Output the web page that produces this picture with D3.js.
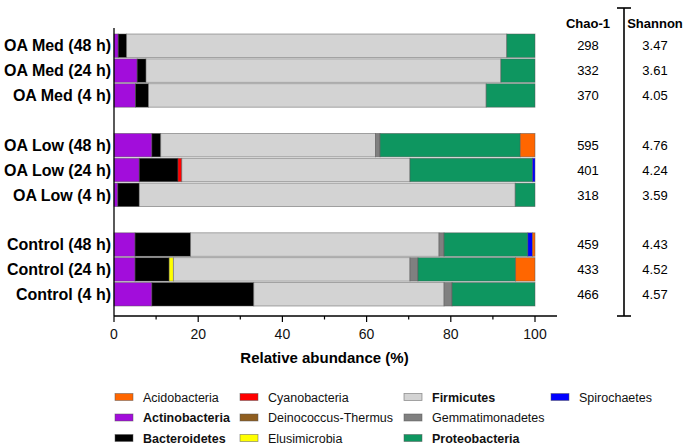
<!DOCTYPE html>
<html>
<head>
<meta charset="utf-8">
<script src="https://cdn.jsdelivr.net/npm/d3@7"></script>
<style>
  body { margin: 0; background: #fff; }
  svg { font-family: "Liberation Sans", Arial, sans-serif; }
</style>
</head>
<body>
<div id="chart"></div>
<script>
// --- data ---
const samples = [
  'OA Med (48 h)', 'OA Med (24 h)', 'OA Med (4 h)', '',
  'OA Low (48 h)', 'OA Low (24 h)', 'OA Low (4 h)', ' ',
  'Control (48 h)', 'Control (24 h)', 'Control (4 h)'
];
const phyla = ['Actinobacteria', 'Bacteroidetes', 'Cyanobacteria', 'Deinococcus-Thermus',
  'Elusimicrobia', 'Firmicutes', 'Gemmatimonadetes', 'Proteobacteria', 'Spirochaetes', 'Acidobacteria'];
const phylumColors = ['#a20ddb', '#000000', '#ff0000', '#8f5e20',
  '#ffff00', '#d3d3d3', '#808080', '#0e9660', '#0000ff', '#ff6600'];
// relative abundance (%) per sample, in phyla order
const abundance = {
  'OA Med (48 h)':  [1.0, 2.0, 0, 0, 0, 90.3, 0, 6.7, 0, 0],
  'OA Med (24 h)':  [5.5, 2.1, 0, 0, 0, 84.3, 0, 8.1, 0, 0],
  'OA Med (4 h)':   [5.1, 3.1, 0, 0, 0, 80.2, 0, 11.6, 0, 0],
  'OA Low (48 h)':  [9.0, 2.1, 0, 0, 0, 51.0, 1.1, 33.3, 0, 3.5],
  'OA Low (24 h)':  [6.0, 9.2, 0.9, 0, 0, 54.2, 0, 29.1, 0.6, 0],
  'OA Low (4 h)':   [0.9, 5.1, 0, 0, 0, 89.3, 0, 4.7, 0, 0],
  'Control (48 h)': [5.0, 13.2, 0, 0, 0, 59.0, 1.2, 19.9, 1.1, 0.6],
  'Control (24 h)': [5.0, 8.1, 0, 0, 1.0, 56.2, 1.9, 23.2, 0, 4.6],
  'Control (4 h)':  [9.0, 24.2, 0, 0, 0, 45.2, 1.9, 19.7, 0, 0]
};
const chao1 = [298, 332, 370, null, 595, 401, 318, null, 459, 433, 466];
const shannon = ['3.47', '3.61', '4.05', null, '4.76', '4.24', '3.59', null, '4.43', '4.52', '4.57'];
const xTicks = [0, 20, 40, 60, 80, 100];
const xMinorTicks = [10, 30, 50, 70, 90];
// legend order (columns, top to bottom)
const legendOrder = ['Acidobacteria', 'Actinobacteria', 'Bacteroidetes', 'Cyanobacteria',
  'Deinococcus-Thermus', 'Elusimicrobia', 'Firmicutes', 'Gemmatimonadetes', 'Proteobacteria', 'Spirochaetes'];
const boldPhyla = ['Actinobacteria', 'Bacteroidetes', 'Firmicutes', 'Proteobacteria'];

// --- layout ---
const W = 685, H = 446;
const svg = d3.select('#chart').append('svg').attr('width', W).attr('height', H);

const x = d3.scaleLinear().domain([0, 100]).range([114, 535]);
const y = d3.scaleBand().domain(samples).range([33.5, 306.5]).paddingInner(0.055).paddingOuter(0.02);

const color = d3.scaleOrdinal().domain(phyla).range(phylumColors);

// stacked segments
const rows = samples.filter(s => abundance[s]).map(s => {
  const obj = { sample: s };
  phyla.forEach((p, i) => { obj[p] = abundance[s][i]; });
  return obj;
});
const stack = d3.stack().keys(phyla)(rows);

const bars = svg.append('g');
stack.forEach(layer => {
  bars.selectAll(null)
    .data(layer.filter(d => d[1] - d[0] > 0))
    .enter().append('rect')
    .attr('x', d => x(d[0]))
    .attr('width', d => x(d[1]) - x(d[0]))
    .attr('y', d => y(d.data.sample))
    .attr('height', y.bandwidth())
    .attr('fill', color(layer.key))
    .attr('stroke', '#555')
    .attr('stroke-opacity', 0.6)
    .attr('stroke-width', 0.8);
});

// x axis
const axisY = 316;
const xAxis = svg.append('g').attr('transform', `translate(0,${axisY})`);
xAxis.append('line').attr('x1', 114).attr('x2', 557).attr('stroke', '#000').attr('stroke-width', 1.3);
xAxis.selectAll('.major').data(xTicks).enter().append('line')
  .attr('x1', d => x(d)).attr('x2', d => x(d)).attr('y1', 0).attr('y2', 6)
  .attr('stroke', '#000').attr('stroke-width', 1.2);
xAxis.selectAll('.minor').data(xMinorTicks).enter().append('line')
  .attr('x1', d => x(d)).attr('x2', d => x(d)).attr('y1', 0).attr('y2', 3.5)
  .attr('stroke', '#000').attr('stroke-width', 1.2);
xAxis.selectAll('text').data(xTicks).enter().append('text')
  .attr('x', d => x(d)).attr('y', 23)
  .attr('text-anchor', 'middle').attr('font-size', 14).attr('fill', '#111')
  .text(d => d);

svg.append('text').attr('x', (x(0) + x(100)) / 2).attr('y', 363)
  .attr('text-anchor', 'middle').attr('font-size', 15).attr('font-weight', 'bold')
  .text('Relative abundance (%)');

// y axis
svg.append('line').attr('x1', 114).attr('x2', 114).attr('y1', 28).attr('y2', axisY)
  .attr('stroke', '#000').attr('stroke-width', 1.3);
svg.append('g').selectAll('text').data(samples.filter(s => abundance[s])).enter().append('text')
  .attr('x', 111).attr('y', d => y(d) + y.bandwidth() / 2)
  .attr('dy', '0.36em').attr('text-anchor', 'end')
  .attr('font-size', 16).attr('font-weight', 'bold')
  .text(d => d);

// diversity columns
const chaoX = 588, shanX = 655, divX = 624;
svg.append('text').attr('x', chaoX).attr('y', 28).attr('text-anchor', 'middle')
  .attr('font-size', 13).attr('font-weight', 'bold').text('Chao-1');
svg.append('text').attr('x', shanX).attr('y', 28).attr('text-anchor', 'middle')
  .attr('font-size', 13).attr('font-weight', 'bold').text('Shannon');
svg.append('g').selectAll('text').data(samples.map((s, i) => ({ s, v: chao1[i] })).filter(d => d.v !== null))
  .enter().append('text')
  .attr('x', chaoX).attr('y', d => y(d.s) + y.bandwidth() / 2).attr('dy', '0.36em')
  .attr('text-anchor', 'middle').attr('font-size', 13).text(d => d.v);
svg.append('g').selectAll('text').data(samples.map((s, i) => ({ s, v: shannon[i] })).filter(d => d.v !== null))
  .enter().append('text')
  .attr('x', shanX).attr('y', d => y(d.s) + y.bandwidth() / 2).attr('dy', '0.36em')
  .attr('text-anchor', 'middle').attr('font-size', 13).text(d => d.v);
const sep = svg.append('g').attr('stroke', '#000').attr('stroke-width', 1.6);
sep.append('line').attr('x1', divX).attr('x2', divX).attr('y1', 8).attr('y2', axisY);
sep.append('line').attr('x1', divX - 7).attr('x2', divX + 7).attr('y1', 8).attr('y2', 8);
sep.append('line').attr('x1', divX - 7).attr('x2', divX + 7).attr('y1', axisY).attr('y2', axisY);

// legend
const legCols = [115, 240, 404, 551];
const legRows = [397, 417.5, 438];
const legend = svg.append('g');
legendOrder.forEach((p, i) => {
  const col = i < 3 ? 0 : i < 6 ? 1 : i < 9 ? 2 : 3;
  const row = i < 9 ? i % 3 : 0;
  const g = legend.append('g').attr('transform', `translate(${legCols[col]},${legRows[row]})`);
  g.append('rect').attr('x', 0).attr('y', -3.5).attr('width', 18).attr('height', 7)
    .attr('fill', color(p)).attr('stroke', '#555').attr('stroke-opacity', 0.6).attr('stroke-width', 0.8);
  g.append('text').attr('x', 28).attr('y', 0).attr('dy', '0.36em')
    .attr('font-size', 12.5).attr('font-weight', boldPhyla.includes(p) ? 'bold' : 'normal')
    .attr('fill', '#111').text(p);
});
</script>
</body>
</html>
